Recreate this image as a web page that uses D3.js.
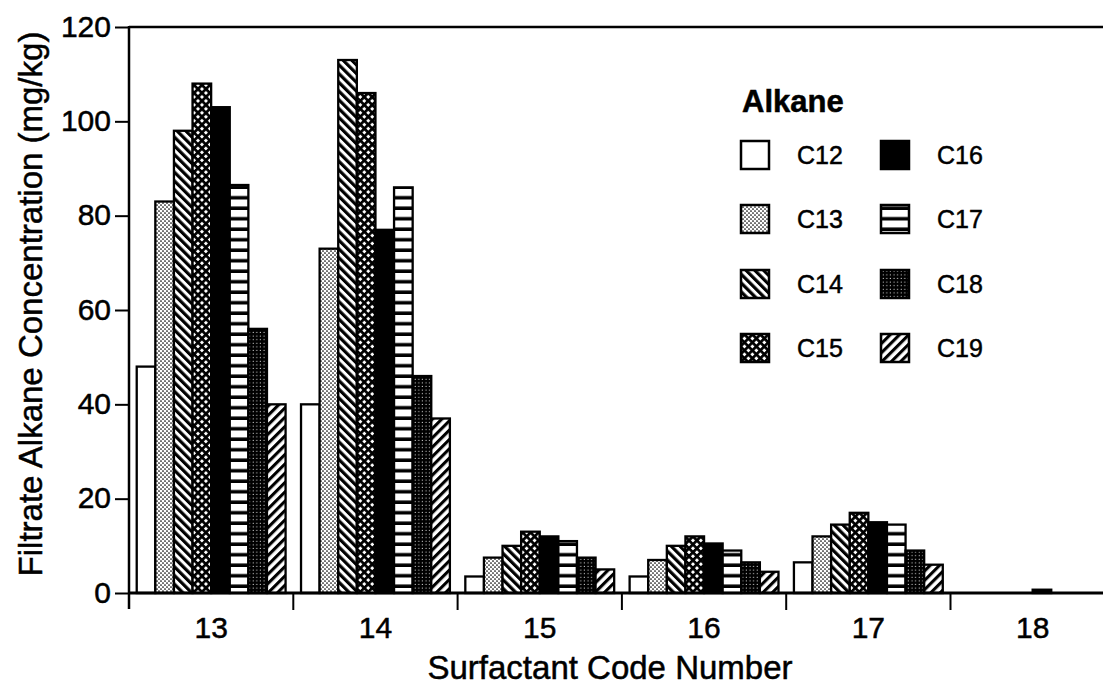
<!DOCTYPE html>
<html>
<head>
<meta charset="utf-8">
<script src="https://cdn.jsdelivr.net/npm/d3@7"></script>
<style>
  html, body { margin: 0; padding: 0; background: #fff; }
  svg { display: block; font-family: "Liberation Sans", Arial, Helvetica, sans-serif; }
  svg text { fill: #000; stroke: #000; stroke-width: 0.5px; }
</style>
</head>
<body>
<svg id="chart" width="1103" height="691"></svg>
<script>
// Surfactant code numbers (x groups) and alkane chain lengths (series)
const surfactants = ["13", "14", "15", "16", "17", "18"];
const alkanes = ["C12", "C13", "C14", "C15", "C16", "C17", "C18", "C19"];

// Filtrate alkane concentration (mg/kg), one array per alkane, ordered by surfactant
const c12 = [48, 40, 3.5, 3.5, 6.5, 0];
const c13 = [83, 73, 7.5, 7, 12, 0];
const c14 = [98, 113, 10, 10, 14.5, 0];
const c15 = [108, 106, 13, 12, 17, 0];
const c16 = [103, 77, 12, 10.5, 15, 0.7];
const c17 = [86.5, 86, 11, 9, 14.5, 0];
const c18 = [56, 46, 7.5, 6.5, 9, 0];
const c19 = [40, 37, 5, 4.5, 6, 0];

const yTicks = [0, 20, 40, 60, 80, 100, 120];

const seriesValues = { C12: c12, C13: c13, C14: c14, C15: c15, C16: c16, C17: c17, C18: c18, C19: c19 };

const W = 1103, H = 691;
const plotLeft = 129, plotTop = 27, plotBottom = 593;
const groupStep = 164.3;

const svg = d3.select("#chart");
svg.append("rect").attr("width", W).attr("height", H).attr("fill", "#fff");

// ---- fill patterns ----
const defs = svg.append("defs");

function stripes(id, angle, period, thick) {
  const p = defs.append("pattern").attr("id", id)
    .attr("patternUnits", "userSpaceOnUse")
    .attr("width", period).attr("height", period)
    .attr("patternTransform", `rotate(${angle})`);
  p.append("rect").attr("width", period).attr("height", period).attr("fill", "#fff");
  p.append("rect").attr("x", 0).attr("y", 0).attr("width", thick).attr("height", period).attr("fill", "#000");
}
stripes("pat-c14", -45, 6.2, 3.2);
stripes("pat-c19", 45, 6.6, 3.1);

// crosshatch
{
  const p = defs.append("pattern").attr("id", "pat-c15")
    .attr("patternUnits", "userSpaceOnUse").attr("width", 5.6).attr("height", 5.6)
    .attr("patternTransform", "rotate(45)");
  p.append("rect").attr("width", 5.6).attr("height", 5.6).attr("fill", "#fff");
  p.append("rect").attr("width", 2.7).attr("height", 5.6).attr("fill", "#000");
  p.append("rect").attr("width", 5.6).attr("height", 2.7).attr("fill", "#000");
}
// light stipple
{
  const p = defs.append("pattern").attr("id", "pat-c13")
    .attr("patternUnits", "userSpaceOnUse").attr("width", 4).attr("height", 4);
  p.append("rect").attr("width", 4).attr("height", 4).attr("fill", "#fff");
  p.append("circle").attr("cx", 1).attr("cy", 1).attr("r", 0.85).attr("fill", "#000");
  p.append("circle").attr("cx", 3).attr("cy", 3).attr("r", 0.85).attr("fill", "#000");
}
// horizontal bands
{
  const p = defs.append("pattern").attr("id", "pat-c17")
    .attr("patternUnits", "userSpaceOnUse").attr("width", 10).attr("height", 10.5);
  p.append("rect").attr("width", 10).attr("height", 10.5).attr("fill", "#fff");
  p.append("rect").attr("y", 7).attr("width", 10).attr("height", 3.5).attr("fill", "#000");
}
// dark stipple
{
  const p = defs.append("pattern").attr("id", "pat-c18")
    .attr("patternUnits", "userSpaceOnUse").attr("width", 3.6).attr("height", 3.6);
  p.append("rect").attr("width", 3.6).attr("height", 3.6).attr("fill", "#000");
  p.append("circle").attr("cx", 1.2).attr("cy", 1.2).attr("r", 0.6).attr("fill", "#fff");
}

const fills = {
  C12: "#fff", C13: "url(#pat-c13)", C14: "url(#pat-c14)", C15: "url(#pat-c15)",
  C16: "#000", C17: "url(#pat-c17)", C18: "url(#pat-c18)", C19: "url(#pat-c19)"
};

// ---- scales ----
const x0 = d3.scaleBand().domain(surfactants)
  .range([plotLeft, plotLeft + groupStep * surfactants.length]).padding(0);
const x1 = d3.scaleBand().domain(alkanes)
  .range([0, x0.bandwidth()]).paddingInner(0).paddingOuter(0.415);
const y = d3.scaleLinear().domain([0, 120]).range([plotBottom, plotTop]);

// ---- bars ----
const rows = [];
surfactants.forEach((s, i) => {
  alkanes.forEach(a => {
    const v = seriesValues[a][i];
    if (v > 0) rows.push({ s, a, v });
  });
});

svg.append("g").selectAll("rect").data(rows).join("rect")
  .attr("x", d => x0(d.s) + x1(d.a))
  .attr("y", d => y(d.v))
  .attr("width", x1.bandwidth())
  .attr("height", d => y(0) - y(d.v))
  .attr("fill", d => fills[d.a])
  .attr("stroke", "#000")
  .attr("stroke-width", 2.3);

// ---- axes ----
const yAxis = svg.append("g").attr("transform", `translate(${plotLeft},0)`)
  .call(d3.axisLeft(y).tickValues(yTicks).tickSize(14).tickPadding(4));
yAxis.select(".domain").remove();
yAxis.selectAll(".tick line").attr("stroke", "#000").attr("stroke-width", 2);
yAxis.selectAll(".tick text")
  .attr("font-size", 30).attr("dy", "0.3em")
  .attr("font-family", "Liberation Sans, Arial, sans-serif");

// frame lines: left axis, baseline and top rule
svg.append("line").attr("x1", plotLeft).attr("x2", plotLeft).attr("y1", y(120) - 1).attr("y2", y(0) + 16)
  .attr("stroke", "#000").attr("stroke-width", 2.5);
svg.append("line").attr("x1", plotLeft).attr("x2", W).attr("y1", y(0)).attr("y2", y(0))
  .attr("stroke", "#000").attr("stroke-width", 3);
svg.append("line").attr("x1", plotLeft).attr("x2", W).attr("y1", y(120)).attr("y2", y(120))
  .attr("stroke", "#000").attr("stroke-width", 2.5);

// x axis labels at group centres
const xAxis = svg.append("g").attr("transform", `translate(0,${y(0)})`)
  .call(d3.axisBottom(x0).tickSize(0).tickPadding(24));
xAxis.select(".domain").remove();
xAxis.selectAll(".tick text")
  .attr("font-size", 30)
  .attr("font-family", "Liberation Sans, Arial, sans-serif");

// separator ticks between groups
svg.append("g").selectAll("line").data(surfactants.slice(1)).join("line")
  .attr("x1", d => x0(d)).attr("x2", d => x0(d))
  .attr("y1", y(0)).attr("y2", y(0) + 17)
  .attr("stroke", "#000").attr("stroke-width", 2);

// ---- axis titles ----
svg.append("text")
  .attr("transform", `translate(42,${(y(0) + y(120)) / 2 - 6}) rotate(-90)`)
  .attr("text-anchor", "middle")
  .attr("font-size", 33)
  .text("Filtrate Alkane Concentration (mg/kg)");

svg.append("text")
  .attr("x", 610).attr("y", 679)
  .attr("text-anchor", "middle")
  .attr("font-size", 33)
  .text("Surfactant Code Number");

// ---- legend ----
const legend = svg.append("g");
legend.append("text").attr("x", 742).attr("y", 112)
  .attr("font-size", 31).attr("font-weight", "bold").text("Alkane");

const rowY = [155, 219, 284, 348];
alkanes.forEach((a, i) => {
  const col = Math.floor(i / 4), row = i % 4;
  const bx = col === 0 ? 741 : 881;
  const cy = rowY[row];
  legend.append("rect")
    .attr("x", bx).attr("y", cy - 14).attr("width", 28).attr("height", 28)
    .attr("fill", fills[a]).attr("stroke", "#000").attr("stroke-width", 2.5);
  legend.append("text")
    .attr("x", bx + 56).attr("y", cy + 9)
    .attr("font-size", 25).text(a);
});
</script>
</body>
</html>
